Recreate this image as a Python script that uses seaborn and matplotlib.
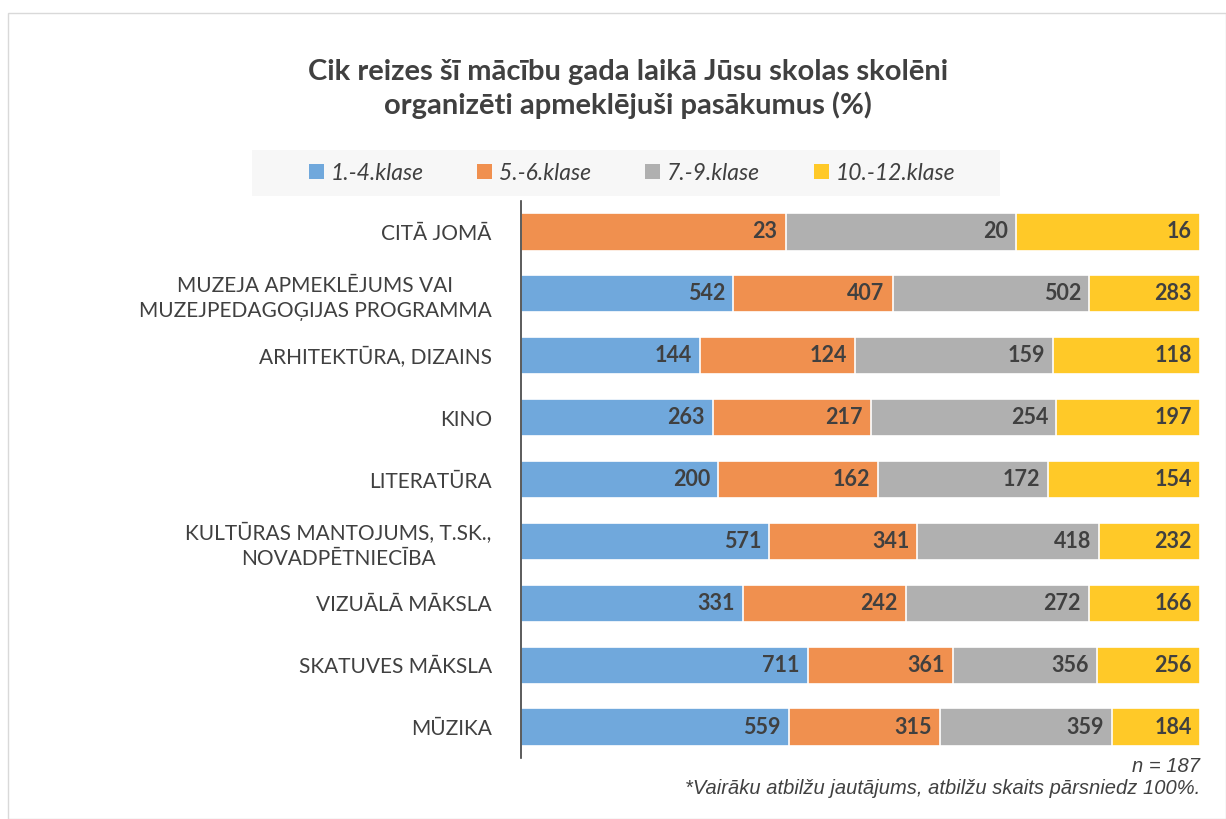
import numpy as np
import pandas as pd
import seaborn as sns
import matplotlib.pyplot as plt
from matplotlib.patches import Rectangle, Patch

# Data (counts; bars show shares of row total)
categories = [
    "CITĀ JOMĀ",
    "MUZEJA APMEKLĒJUMS VAI\nMUZEJPEDAGOĢIJAS PROGRAMMA",
    "ARHITEKTŪRA, DIZAINS",
    "KINO",
    "LITERATŪRA",
    "KULTŪRAS MANTOJUMS, T.SK.,\nNOVADPĒTNIECĪBA",
    "VIZUĀLĀ MĀKSLA",
    "SKATUVES MĀKSLA",
    "MŪZIKA",
]
grade_1_4 = [0, 542, 144, 263, 200, 571, 331, 711, 559]
grade_5_6 = [23, 407, 124, 217, 162, 341, 242, 361, 315]
grade_7_9 = [20, 502, 159, 254, 172, 418, 272, 356, 359]
grade_10_12 = [16, 283, 118, 197, 154, 232, 166, 256, 184]
series_names = ["1.-4.klase", "5.-6.klase", "7.-9.klase", "10.-12.klase"]
colors = ["#70A8DC", "#F0904F", "#B0B0B0", "#FFC928"]

df = pd.DataFrame({
    "category": categories,
    series_names[0]: grade_1_4,
    series_names[1]: grade_5_6,
    series_names[2]: grade_7_9,
    series_names[3]: grade_10_12,
})
vals = df[series_names].to_numpy(dtype=float)
totals = vals.sum(axis=1)
shares = vals / totals[:, None] * 100
cum = np.cumsum(shares, axis=1)

sns.set_style("white")
plt.rcParams['font.family'] = ['Lato', 'DejaVu Sans']

fig = plt.figure(figsize=(12.26, 8.19), dpi=100)
ax = fig.add_axes([521 / 1226, 1 - 758 / 819, 679 / 1226, 557 / 819])

# stacked bars: draw cumulative widths from the widest down
for i in range(3, -1, -1):
    plot_df = pd.DataFrame({"category": categories, "cum": cum[:, i]})
    sns.barplot(data=plot_df, x="cum", y="category", orient="h",
                color=colors[i], saturation=1, width=0.6,
                edgecolor="white", linewidth=1.2, ax=ax)

# value labels at the right end of each segment
for r in range(len(categories)):
    for i in range(4):
        if vals[r, i] > 0:
            ax.text(cum[r, i] - 1.2, r, f"{int(vals[r, i])}", ha="right", va="center",
                    fontsize=15.5, fontweight="bold", color="#404040")

ax.set_xlim(0, 100)
ax.set_ylim(8.5, -0.5)
ax.set_xlabel("")
ax.set_ylabel("")
ax.set_xticks([])
ax.tick_params(axis="y", length=0, pad=21, labelsize=15, labelcolor="#404040")
for s in ["top", "right", "bottom"]:
    ax.spines[s].set_visible(False)
ax.spines["left"].set_color("#404040")
ax.spines["left"].set_linewidth(1.2)
for lbl in ax.get_yticklabels():
    lbl.set_multialignment("center")
    lbl.set_linespacing(1.3)

# chart border
fig.patches.append(Rectangle((8 / 1226, 0), 1 - 8 / 1226, 1 - 13 / 819,
                             transform=fig.transFigure, fill=False,
                             edgecolor="#D9D9D9", linewidth=1))

# title
fig.text(628 / 1226, 1 - 89 / 819,
         "Cik reizes šī mācību gada laikā Jūsu skolas skolēni\norganizēti apmeklējuši pasākumus (%)",
         ha="center", va="center", fontsize=21, fontweight="bold", color="#404040",
         linespacing=1.28)

# legend with light background
fig.patches.append(Rectangle((252 / 1226, 1 - 196 / 819), 748 / 1226, 46 / 819,
                             transform=fig.transFigure, facecolor="#F7F7F7",
                             edgecolor="none", zorder=0))
handles = [Patch(facecolor=c, edgecolor="none") for c in colors]
leg = fig.legend(handles, series_names, loc="center", bbox_to_anchor=(632 / 1226, 1 - 173 / 819),
                 ncol=4, frameon=False, handlelength=0.65, handleheight=0.65,
                 handletextpad=0.3, columnspacing=2.35,
                 prop={"size": 16.5, "style": "italic", "family": ["Lato", "DejaVu Sans"]})
for t in leg.get_texts():
    t.set_color("#404040")

# footnotes
fig.text(1200 / 1226, 1 - 767 / 819, "n = 187", ha="right", va="center",
         fontsize=14.5, style="italic", color="#404040", family=["Liberation Sans", "DejaVu Sans"])
fig.text(1200 / 1226, 1 - 788 / 819, "*Vairāku atbilžu jautājums, atbilžu skaits pārsniedz 100%.",
         ha="right", va="center", fontsize=14.5, style="italic", color="#404040",
         family=["Liberation Sans", "DejaVu Sans"])

fig.savefig("out.png", dpi=100)
